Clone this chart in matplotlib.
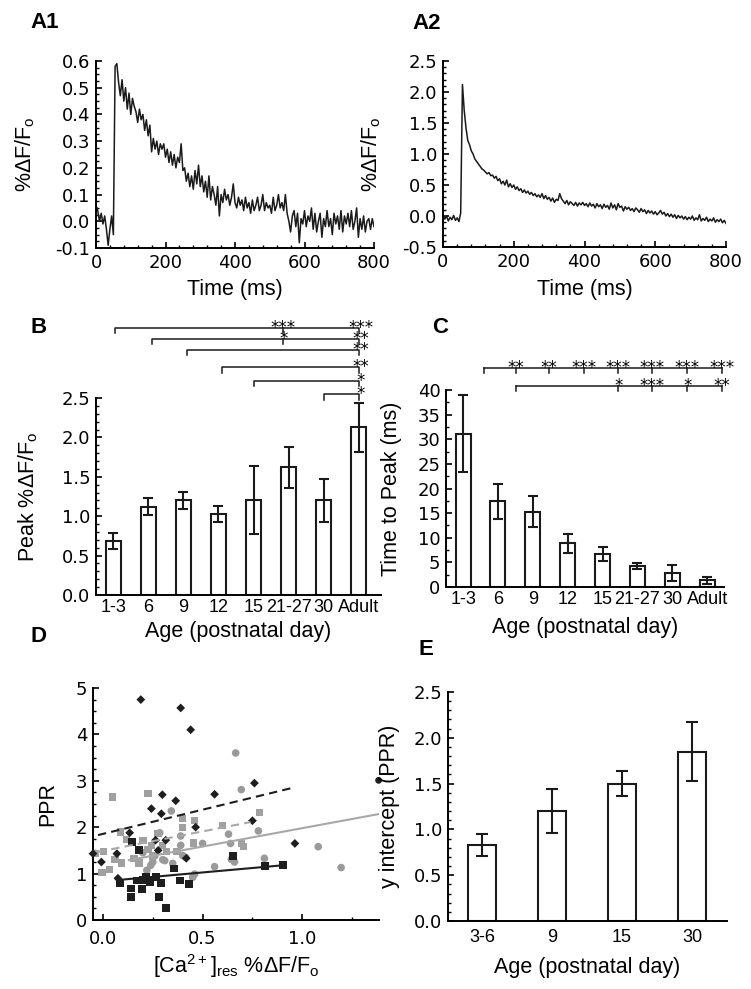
import matplotlib
matplotlib.use("Agg")
import matplotlib.pyplot as plt
from matplotlib.ticker import MultipleLocator, FormatStrFormatter
import numpy as np

plt.rcParams['font.family'] = ['Liberation Sans', 'DejaVu Sans']
plt.rcParams['mathtext.fontset'] = 'custom'
plt.rcParams['mathtext.rm'] = 'Liberation Sans'
plt.rcParams['axes.linewidth'] = 1.4

# ---- A1 / A2 traces, sampled every 5 ms from 0 to 800 ----
t_ms = np.arange(0, 805, 5)
a1_trace = [0.06, 0.04, 0.00, 0.03, -0.01, 0.02, -0.03, -0.09, -0.03, 0.02,
            -0.05, 0.58, 0.59, 0.52, 0.47, 0.53, 0.45, 0.50, 0.42, 0.48,
            0.40, 0.46, 0.43, 0.41, 0.37, 0.42, 0.38, 0.40, 0.34, 0.38,
            0.32, 0.36, 0.26, 0.31, 0.27, 0.30, 0.25, 0.29, 0.27, 0.29,
            0.24, 0.27, 0.22, 0.26, 0.21, 0.25, 0.20, 0.24, 0.22, 0.29,
            0.19, 0.20, 0.15, 0.18, 0.13, 0.17, 0.12, 0.19, 0.14, 0.21,
            0.13, 0.17, 0.11, 0.15, 0.09, 0.17, 0.08, 0.13, 0.10, 0.06,
            0.13, 0.02, 0.10, 0.07, 0.12, 0.08, 0.10, 0.06, 0.09, 0.14,
            0.07, 0.05, 0.09, 0.06, 0.08, 0.04, 0.09, 0.05, 0.07, 0.03,
            0.08, 0.04, 0.06, 0.09, 0.04, 0.06, 0.10, 0.04, 0.07, 0.05,
            0.06, 0.03, 0.09, 0.04, 0.06, 0.10, 0.05, 0.07, 0.04, 0.10,
            0.03, 0.00, -0.04, 0.02, 0.04, -0.02, 0.03, -0.08, 0.01, -0.01,
            0.04, -0.02, 0.02, 0.00, 0.05, -0.03, 0.03, -0.04, 0.00, 0.03,
            -0.06, 0.01, -0.02, 0.04, -0.02, 0.01, -0.05, 0.03, -0.01, 0.02,
            -0.03, 0.04, -0.04, 0.02, -0.01, 0.03, -0.02, 0.04, -0.03, 0.00,
            0.05, -0.06, 0.01, -0.03, 0.02, -0.04, 0.00, 0.01, -0.03, 0.01,
            -0.02]
a2_trace = [0.02, -0.05, 0.00, -0.08, -0.02, -0.06, 0.01, -0.07, -0.03, -0.09,
            0.05, 2.12, 1.70, 1.42, 1.22, 1.15, 1.05, 1.00, 0.92, 0.88,
            0.84, 0.80, 0.76, 0.74, 0.71, 0.68, 0.70, 0.65, 0.66, 0.61,
            0.64, 0.57, 0.60, 0.52, 0.56, 0.50, 0.58, 0.47, 0.52, 0.46,
            0.50, 0.43, 0.47, 0.41, 0.44, 0.38, 0.42, 0.37, 0.40, 0.35,
            0.38, 0.33, 0.36, 0.31, 0.34, 0.30, 0.36, 0.28, 0.33, 0.27,
            0.30, 0.24, 0.29, 0.22, 0.27, 0.25, 0.36, 0.28, 0.24, 0.20,
            0.25, 0.18, 0.23, 0.20, 0.17, 0.22, 0.16, 0.21, 0.18, 0.22,
            0.17, 0.20, 0.15, 0.21, 0.16, 0.19, 0.13, 0.20, 0.15, 0.18,
            0.12, 0.19, 0.14, 0.17, 0.11, 0.21, 0.13, 0.18, 0.10, 0.20,
            0.14, 0.16, 0.08, 0.15, 0.11, 0.14, 0.09, 0.12, 0.07, 0.13,
            0.10, 0.06, 0.12, 0.07, 0.10, 0.04, 0.09, 0.05, 0.08, 0.03,
            0.07, 0.02, 0.05, 0.09, 0.03, 0.06, 0.00, 0.04, -0.01, 0.03,
            -0.02, 0.02, -0.04, 0.01, -0.03, 0.00, -0.05, -0.01, -0.06, -0.02,
            -0.05, 0.00, -0.07, -0.03, -0.06, 0.02, -0.08, -0.04, -0.07, -0.02,
            -0.09, -0.05, -0.08, -0.03, -0.10, -0.06, -0.09, -0.05, -0.11, -0.07,
            -0.12]

# ---- B / C bar data ----
ages = ["1-3", "6", "9", "12", "15", "21-27", "30", "Adult"]
peak_mean = [0.69, 1.12, 1.20, 1.03, 1.21, 1.62, 1.20, 2.13]
peak_err = [0.10, 0.11, 0.11, 0.10, 0.43, 0.26, 0.27, 0.31]
ttp_mean = [31.1, 17.4, 15.3, 8.9, 6.7, 4.2, 2.9, 1.4]
ttp_err = [7.8, 3.6, 3.1, 1.9, 1.4, 0.6, 1.6, 0.7]

# significance brackets in B (left end, level, stars at Adult)
b_sig_left = [0.05, 1.1, 2.1, 3.1, 4.0, 6.0]
b_sig_right = 7.0
b_sig_y = [3.39, 3.25, 3.11, 2.89, 2.72, 2.55]
b_sig_stars = ["***", "**", "**", "**", "*", "*"]
b_mid_x = 4.85
b_mid_lines = [0, 1]
b_mid_stars = ["***", "*"]

# significance brackets in C
c_line1_y = 44.5
c_line1_ticks = [0.60, 1.51, 2.46, 3.46, 4.45, 5.43, 6.43, 7.41]
c_line1_stars = ["**", "**", "***", "***", "***", "***", "***"]
c_line2_y = 40.8
c_line2_ticks = [1.51, 4.45, 5.43, 6.43, 7.41]
c_line2_stars = ["*", "***", "*", "**"]

# ---- D scatter ----
dia_x = [0.19, 0.39, 0.44, 0.298, 0.56, 0.76, 0.365, 0.243, 0.293, 0.75, 0.465,
         0.134, 0.264, 0.315, 0.277, 0.07, -0.008, -0.05, 0.963, 0.418, 0.075]
dia_y = [4.75, 4.57, 4.10, 2.70, 2.71, 2.95, 2.57, 2.40, 2.29, 2.14, 2.00,
         1.88, 1.72, 1.72, 1.50, 1.43, 1.25, 1.43, 1.65, 1.33, 0.90]
gsq_x = [0.047, 0.226, 0.089, 0.117, 0.20, 0.243, 0.277, 0.398, 0.40, 0.46,
         0.455, 0.60, 0.004, -0.037, 0.06, 0.092, -0.005, 0.034, 0.18, 0.155,
         0.226, 0.318, 0.371, 0.786, 0.694, 0.706, 0.30, 0.25]
gsq_y = [2.65, 2.72, 1.90, 1.74, 1.72, 1.61, 1.86, 2.19, 2.00, 2.14,
         1.66, 2.04, 1.47, 1.43, 1.31, 1.23, 1.02, 1.09, 1.23, 1.33,
         1.52, 1.47, 1.47, 2.31, 1.65, 1.58, 1.60, 1.38]
gci_x = [0.666, 0.694, 0.343, 0.285, 0.50, 0.644, 0.66, 0.56, 0.45, 0.46,
         0.415, 0.40, 0.26, 0.30, 0.24, 0.22, 0.25, 0.35, 0.78, 0.63,
         0.64, 0.81, 1.08, 1.195, 0.39, 0.39, 0.20, 0.31]
gci_y = [3.60, 2.81, 2.35, 1.88, 1.65, 1.31, 1.25, 1.15, 0.92, 0.99,
         1.35, 1.39, 1.38, 1.30, 1.18, 1.07, 1.25, 1.22, 1.92, 1.85,
         1.65, 1.33, 1.58, 1.13, 1.81, 1.61, 1.45, 1.28]
bsq_x = [0.147, 0.18, 0.084, 0.142, 0.142, 0.198, 0.20, 0.214, 0.234, 0.268,
         0.293, 0.282, 0.318, 0.356, 0.385, 0.432, 0.168, 0.652, 0.811, 0.905]
bsq_y = [1.68, 1.51, 0.79, 0.68, 0.50, 0.66, 0.86, 0.92, 0.82, 0.92,
         0.80, 0.49, 0.25, 1.11, 0.85, 0.77, 0.85, 1.38, 1.16, 1.18]
extra_x = [1.383]
extra_y = [3.01]
fit_dia_x, fit_dia_y = [-0.025, 0.953], [1.83, 2.85]
fit_gsq_x, fit_gsq_y = [-0.025, 0.74], [1.47, 2.11]
fit_gci_x, fit_gci_y = [0.13, 1.38], [1.29, 2.28]
fit_bsq_x, fit_bsq_y = [0.07, 0.905], [0.86, 1.18]

# ---- E bars ----
e_ages = ["3-6", "9", "15", "30"]
e_mean = [0.83, 1.20, 1.50, 1.85]
e_err = [0.12, 0.24, 0.14, 0.32]

W, H = 751, 989
fig = plt.figure(figsize=(W / 100, H / 100), dpi=100)


def box(l, t, r, b):
    return [l / W, 1 - b / H, (r - l) / W, (b - t) / H]


NUMFONT = "DejaVu Sans"
NUMSIZE = 13
CATSIZE = 13
LAB = 15.5
dff = "%ΔF/F$_\\mathregular{o}$"


def style(ax, num_x=True):
    for s in ["top", "right"]:
        ax.spines[s].set_visible(False)
    ax.tick_params(direction="in", which="major", length=4, width=1.2, pad=4)
    ax.tick_params(direction="in", which="minor", length=2.5, width=1.0)
    for lb in ax.get_yticklabels():
        lb.set_fontfamily(NUMFONT)
        lb.set_fontsize(NUMSIZE)
    for lb in ax.get_xticklabels():
        lb.set_fontfamily(NUMFONT if num_x else "Liberation Sans")
        lb.set_fontsize(NUMSIZE if num_x else CATSIZE)


def labels(ax, xlab, ylab, ylab_px, xlab_px, left, bottom, width, height):
    ax.set_xlabel(xlab, fontsize=LAB, va="center")
    ax.set_ylabel(ylab, fontsize=LAB, va="center")
    ax.yaxis.set_label_coords((ylab_px - left) / width, 0.5)
    ax.xaxis.set_label_coords(0.5, (bottom - xlab_px) / height)


def panel(x, y, s):
    fig.text(x / W, 1 - y / H, s, fontsize=16, fontweight="bold", va="top", ha="left")


# A1
ax = fig.add_axes(box(96, 61, 374, 248))
ax.plot(t_ms, a1_trace, color="#1a1a1a", lw=1.1)
ax.set_xlim(0, 800)
ax.set_ylim(-0.1, 0.6)
ax.xaxis.set_major_locator(MultipleLocator(200))
ax.xaxis.set_minor_locator(MultipleLocator(40))
ax.yaxis.set_major_locator(MultipleLocator(0.1))
ax.yaxis.set_minor_locator(MultipleLocator(0.025))
ax.yaxis.set_major_formatter(FormatStrFormatter("%.1f"))
style(ax)
labels(ax, "Time (ms)", dff, 25, 290, 96, 248, 278, 187)
panel(30, 12, "A1")

# A2
ax = fig.add_axes(box(443, 61, 726, 247))
ax.plot(t_ms, a2_trace, color="#1a1a1a", lw=1.1)
ax.set_xlim(0, 800)
ax.set_ylim(-0.5, 2.5)
ax.xaxis.set_major_locator(MultipleLocator(200))
ax.xaxis.set_minor_locator(MultipleLocator(40))
ax.yaxis.set_major_locator(MultipleLocator(0.5))
ax.yaxis.set_minor_locator(MultipleLocator(0.1))
ax.yaxis.set_major_formatter(FormatStrFormatter("%.1f"))
style(ax)
labels(ax, "Time (ms)", dff, 371, 290, 443, 247, 283, 186)
panel(412, 13, "A2")


def bars(ax, names, means, errs, width, cap):
    x = np.arange(len(names))
    ax.bar(x, means, width=width, color="white", edgecolor="#1a1a1a", linewidth=1.5)
    ax.errorbar(x, means, yerr=errs, fmt="none", ecolor="#1a1a1a",
                elinewidth=1.5, capsize=cap, capthick=1.5)
    ax.set_xticks(x)
    ax.set_xticklabels(names)


def star(ax, x, y, s):
    ax.annotate(s, (x, y), xytext=(0, -3.6), textcoords="offset points",
                ha="center", va="baseline", fontsize=12, family="DejaVu Sans",
                annotation_clip=False)


# B
ax = fig.add_axes(box(96, 398, 381, 595))
bars(ax, ages, peak_mean, peak_err, 0.43, 3.6)
ax.set_xlim(-0.49, 7.63)
ax.set_ylim(0, 2.5)
ax.yaxis.set_major_locator(MultipleLocator(0.5))
ax.yaxis.set_minor_locator(MultipleLocator(0.1))
ax.yaxis.set_major_formatter(FormatStrFormatter("%.1f"))
style(ax, num_x=False)
ax.tick_params(axis="x", which="both", length=0, pad=3)
labels(ax, "Age (postnatal day)", "Peak " + dff, 28, 632, 96, 595, 285, 197)
tk = 0.07
for xl, yl, st in zip(b_sig_left, b_sig_y, b_sig_stars):
    ax.plot([xl, xl, b_sig_right, b_sig_right], [yl - tk, yl, yl, yl - tk],
            color="#1a1a1a", lw=1.1, clip_on=False)
    star(ax, b_sig_right + 0.05, yl, st)
for i, st in zip(b_mid_lines, b_mid_stars):
    yl = b_sig_y[i]
    ax.plot([b_mid_x, b_mid_x], [yl, yl - tk], color="#1a1a1a", lw=1.1, clip_on=False)
    star(ax, b_mid_x, yl, st)
panel(30, 317, "B")

# C
ax = fig.add_axes(box(446, 390, 724, 587))
bars(ax, ages, ttp_mean, ttp_err, 0.43, 3.6)
ax.set_xlim(-0.49, 7.48)
ax.set_ylim(0, 40)
ax.yaxis.set_major_locator(MultipleLocator(5))
ax.yaxis.set_minor_locator(MultipleLocator(2.5))
style(ax, num_x=False)
ax.tick_params(axis="x", which="both", length=0, pad=3)
labels(ax, "Age (postnatal day)", "Time to Peak (ms)", 392, 628, 446, 587, 278, 197)
tk = 1.1
for y0, ticks, stars in [(c_line1_y, c_line1_ticks, c_line1_stars),
                         (c_line2_y, c_line2_ticks, c_line2_stars)]:
    ax.plot([ticks[0], ticks[-1]], [y0, y0], color="#1a1a1a", lw=1.1, clip_on=False)
    for xt in ticks:
        ax.plot([xt, xt], [y0, y0 - tk], color="#1a1a1a", lw=1.1, clip_on=False)
    for xt, st in zip(ticks[1:], stars):
        star(ax, xt, y0, st)
panel(432, 317, "C")

# D
ax = fig.add_axes(box(93, 688, 379, 920))
ax.scatter(gci_x, gci_y, s=30, marker="o", color="#9a9a9a", edgecolors="none", zorder=2)
ax.scatter(gsq_x, gsq_y, s=28, marker="s", color="#a0a0a0", edgecolors="none", zorder=2)
ax.scatter(bsq_x, bsq_y, s=32, marker="s", color="#1e1e1e", edgecolors="none", zorder=3)
ax.scatter(dia_x, dia_y, s=20, marker="D", color="#1e1e1e", edgecolors="none",
           zorder=4, clip_on=False)
ax.scatter(extra_x, extra_y, s=24, marker="o", color="#1e1e1e", edgecolors="none",
           clip_on=False, zorder=4)
ax.plot(fit_dia_x, fit_dia_y, color="#1e1e1e", lw=1.5, ls=(0, (4, 2.5)), zorder=5)
ax.plot(fit_gsq_x, fit_gsq_y, color="#a8a8a8", lw=1.5, ls=(0, (4, 2.5)), zorder=5)
ax.plot(fit_gci_x, fit_gci_y, color="#a8a8a8", lw=1.5, zorder=5)
ax.plot(fit_bsq_x, fit_bsq_y, color="#1e1e1e", lw=1.5, zorder=5)
ax.set_xlim(-0.05, 1.385)
ax.set_ylim(0, 5)
ax.xaxis.set_major_locator(MultipleLocator(0.5))
ax.xaxis.set_minor_locator(MultipleLocator(0.25))
ax.xaxis.set_major_formatter(FormatStrFormatter("%.1f"))
ax.yaxis.set_major_locator(MultipleLocator(1))
ax.yaxis.set_minor_locator(MultipleLocator(0.25))
style(ax)
ax.tick_params(axis="x", which="both", pad=7)
labels(ax, "[Ca$^\\mathregular{2+}$]$_\\mathregular{res}$ " + dff, "PPR",
       48, 966, 93, 920, 286, 232)
panel(30, 626, "D")

# E
ax = fig.add_axes(box(448, 692, 727, 921))
bars(ax, e_ages, e_mean, e_err, 0.4, 4.3)
ax.set_xlim(-0.49, 3.5)
ax.set_ylim(0, 2.5)
ax.yaxis.set_major_locator(MultipleLocator(0.5))
ax.yaxis.set_minor_locator(MultipleLocator(0.1))
ax.yaxis.set_major_formatter(FormatStrFormatter("%.1f"))
style(ax, num_x=False)
ax.tick_params(axis="x", which="both", length=0, pad=6)
labels(ax, "Age (postnatal day)", "y intercept (PPR)", 390, 967, 448, 921, 279, 229)
panel(419, 639, "E")

fig.savefig("out.png", dpi=100)
